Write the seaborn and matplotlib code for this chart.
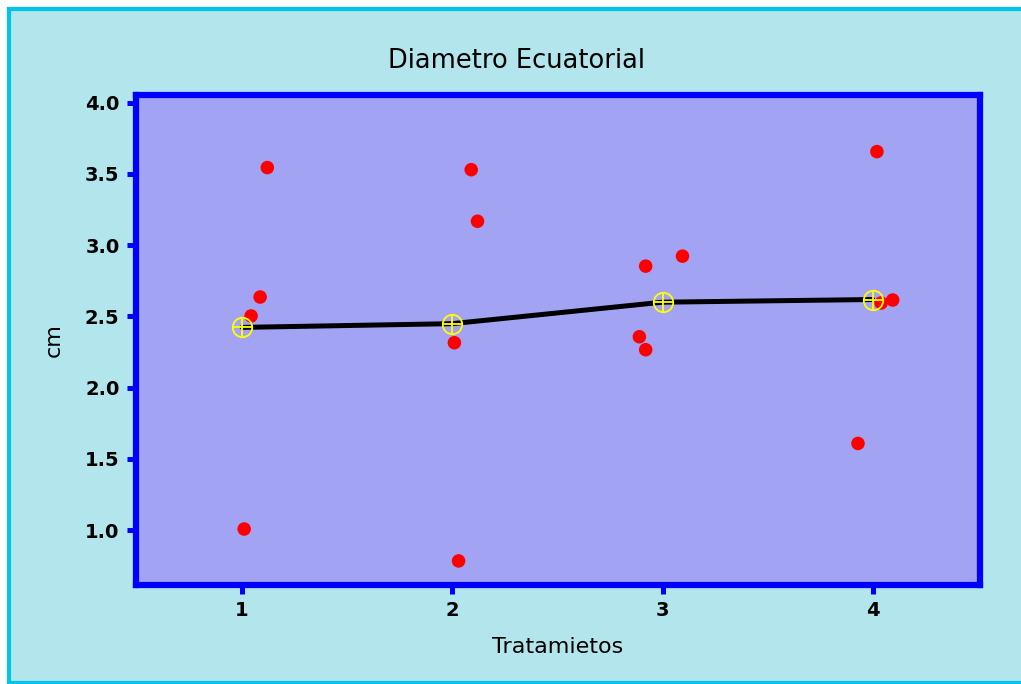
import matplotlib
matplotlib.use("Agg")
import matplotlib.pyplot as plt
from matplotlib.patches import Rectangle
import seaborn as sns
import pandas as pd
import numpy as np

# ---- data ----
tratamiento = [1, 1, 1, 1, 2, 2, 2, 2, 3, 3, 3, 3, 4, 4, 4, 4]
x_jitter = [1.12, 1.086, 1.043, 1.01,
            2.09, 2.12, 2.01, 2.03,
            3.095, 2.92, 2.89, 2.92,
            4.02, 4.095, 4.04, 3.93]
diametro = [3.545, 2.636, 2.503, 1.007,
            3.53, 3.168, 2.315, 0.783,
            2.923, 2.853, 2.357, 2.266,
            3.657, 2.615, 2.594, 1.608]
x_ticks = [1, 2, 3, 4]
y_ticks = [1.0, 1.5, 2.0, 2.5, 3.0, 3.5, 4.0]
titulo = "Diametro Ecuatorial"
x_label = "Tratamietos"
y_label = "cm"

df = pd.DataFrame({"trat": tratamiento, "xj": x_jitter, "y": diametro})
medias = df.groupby("trat", as_index=False)["y"].mean()

sns.set_theme(style="white")
plt.rcParams["font.family"] = ["DejaVu Sans"]

W, H = 1021, 684
fig = plt.figure(figsize=(W / 100, H / 100), dpi=100, facecolor="white")

# outer cyan frame / background
bg = Rectangle((9 / W, 1 / H), 1.2, (683 - 9) / H, transform=fig.transFigure,
               facecolor="#b2e6ec", edgecolor="#00c4ee", linewidth=3.0, zorder=-10)
fig.patches.append(bg)

ax = fig.add_axes([135.5 / W, (H - 585) / H, (979.5 - 135.5) / W, (585 - 94.5) / H])
ax.set_zorder(1)
ax.set_facecolor("#a3a3f3")

sns.scatterplot(data=df, x="xj", y="y", ax=ax, color="#ff0000", s=95,
                edgecolor="none", linewidth=0, zorder=3, legend=False)
sns.lineplot(data=df, x="trat", y="y", estimator="mean", errorbar=None, ax=ax,
             color="black", linewidth=3.6, zorder=4, legend=False)
ax.plot(medias["trat"], medias["y"], linestyle="none", marker="o", markersize=14,
        markerfacecolor="none", markeredgecolor="#ffff00", markeredgewidth=1.3, zorder=5)
ax.plot(medias["trat"], medias["y"], linestyle="none", marker="+", markersize=14,
        markeredgecolor="#ffff00", markeredgewidth=1.3, zorder=5)

ax.set_xlim(0.493, 4.508)
ax.set_ylim(0.614, 4.058)
ax.set_xticks(x_ticks)
ax.set_xticklabels([str(t) for t in x_ticks])
ax.set_yticks(y_ticks)
ax.set_yticklabels([f"{t:.1f}" for t in y_ticks])

for sp in ax.spines.values():
    sp.set_visible(True)
    sp.set_color("#0000ff")
    sp.set_linewidth(4.5)

ax.tick_params(axis="both", which="major", direction="out", length=6.5, width=3.6,
               color="#0000ff", labelsize=14, labelcolor="black", pad=5,
               bottom=True, left=True, top=False, right=False)
for lab in ax.get_xticklabels() + ax.get_yticklabels():
    lab.set_fontweight("bold")

ax.set_xlabel(x_label, fontsize=16, color="black", labelpad=12)
ax.set_ylabel(y_label, fontsize=16, color="black", labelpad=15)
ax.set_title(titulo, fontsize=18.5, color="black", pad=19,
             x=(516 - 135.5) / (979.5 - 135.5))

fig.savefig("out.png", dpi=100, facecolor=fig.get_facecolor())
